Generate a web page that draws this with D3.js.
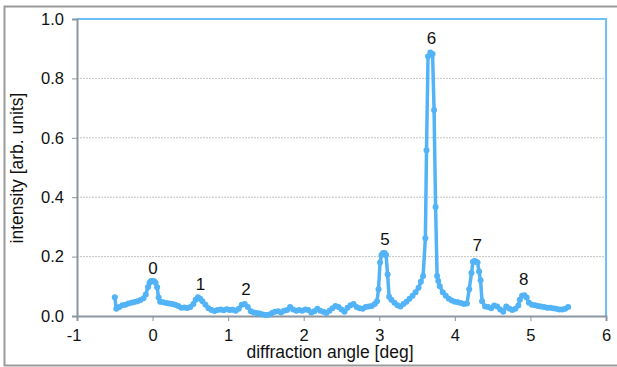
<!DOCTYPE html>
<html>
<head>
<meta charset="utf-8">
<script src="https://cdn.jsdelivr.net/npm/d3@7"></script>
<style>
  body { margin: 0; background: #fff; }
  svg { display: block; font-family: "Liberation Sans", Arial, sans-serif; }
</style>
</head>
<body>
<svg class="chart" width="617" height="367"></svg>
<script>
// diffraction scan
var angle = [-0.50,-0.48,-0.44,-0.40,-0.36,-0.32,-0.28,-0.24,-0.20,-0.16,-0.12,-0.09,-0.06,-0.04,-0.02,0.00,0.02,0.04,0.06,0.08,
  0.10,0.14,0.18,0.22,0.26,0.30,0.34,0.38,0.42,0.46,0.50,0.54,0.57,0.60,0.63,0.66,0.70,0.74,0.78,0.82,
  0.86,0.90,0.94,0.98,1.02,1.06,1.10,1.14,1.18,1.22,1.26,1.30,1.34,1.38,1.42,1.46,1.50,1.54,1.58,1.62,
  1.66,1.70,1.74,1.78,1.82,1.86,1.90,1.94,1.98,2.02,2.06,2.10,2.14,2.18,2.22,2.26,2.30,2.34,2.38,2.42,
  2.46,2.50,2.54,2.58,2.62,2.66,2.70,2.74,2.78,2.82,2.86,2.90,2.94,2.97,2.99,3.01,3.03,3.05,3.07,3.09,
  3.11,3.13,3.16,3.20,3.24,3.28,3.32,3.36,3.40,3.44,3.48,3.52,3.55,3.58,3.61,3.625,3.645,3.675,3.705,3.725,
  3.745,3.765,3.78,3.80,3.84,3.88,3.92,3.96,4.00,4.04,4.08,4.12,4.16,4.19,4.22,4.24,4.26,4.28,4.30,4.32,
  4.34,4.36,4.40,4.44,4.48,4.52,4.56,4.60,4.64,4.68,4.72,4.76,4.80,4.84,4.86,4.89,4.92,4.95,4.98,5.02,
  5.06,5.10,5.14,5.18,5.22,5.26,5.30,5.34,5.38,5.42,5.46,5.50];
var intensity = [0.063,0.024,0.030,0.036,0.038,0.042,0.045,0.047,0.050,0.054,0.060,0.072,0.098,0.112,0.118,0.118,0.117,0.112,0.097,0.062,
  0.048,0.046,0.044,0.042,0.040,0.038,0.034,0.028,0.029,0.027,0.030,0.040,0.055,0.063,0.058,0.050,0.038,0.026,0.020,0.017,
  0.020,0.022,0.019,0.023,0.020,0.021,0.018,0.024,0.038,0.040,0.030,0.016,0.012,0.010,0.008,0.005,0.003,0.004,0.010,0.014,
  0.016,0.012,0.018,0.020,0.030,0.022,0.018,0.020,0.018,0.022,0.020,0.012,0.016,0.024,0.018,0.014,0.010,0.018,0.026,0.034,
  0.030,0.022,0.014,0.028,0.036,0.040,0.030,0.026,0.024,0.030,0.032,0.034,0.040,0.050,0.090,0.180,0.205,0.212,0.212,0.205,
  0.140,0.065,0.055,0.045,0.036,0.032,0.040,0.048,0.058,0.068,0.080,0.095,0.115,0.135,0.262,0.558,0.874,0.887,0.882,0.694,
  0.367,0.135,0.118,0.100,0.080,0.068,0.058,0.052,0.048,0.046,0.044,0.040,0.042,0.090,0.145,0.183,0.185,0.183,0.180,0.150,
  0.120,0.050,0.032,0.030,0.026,0.035,0.032,0.022,0.014,0.032,0.025,0.020,0.024,0.035,0.055,0.068,0.070,0.062,0.045,0.038,
  0.036,0.034,0.032,0.030,0.028,0.028,0.026,0.024,0.022,0.022,0.024,0.030];

var peakNames = ["0", "1", "2", "5", "6", "7", "8"];
var peakX = [0.006, 0.633, 1.237, 3.076, 3.69, 4.297, 4.913];
var peakY = [0.142, 0.088, 0.071, 0.240, 0.916, 0.220, 0.105];

var xTicks = [-1, 0, 1, 2, 3, 4, 5, 6];
var yTicks = [0, 0.2, 0.4, 0.6, 0.8, 1.0];

var svg = d3.select("svg.chart"),
    margin = {top: 19, right: 11, bottom: 51, left: 77},
    width = +svg.attr("width") - margin.left - margin.right,
    height = +svg.attr("height") - margin.top - margin.bottom;

// outer frame
svg.append("rect")
    .attr("x", 4.5).attr("y", 6.5)
    .attr("width", 640).attr("height", 359)
    .attr("fill", "none")
    .attr("stroke", "#9a9a9a")
    .attr("stroke-width", 2);

var g = svg.append("g").attr("transform", "translate(" + margin.left + "," + margin.top + ")");

var x = d3.scaleLinear().domain([-1, 6]).range([0, width]);
var y = d3.scaleLinear().domain([0, 1]).range([height, 0]);

// grid
g.append("g")
  .selectAll("line")
  .data(yTicks.slice(1, -1))
  .enter().append("line")
    .attr("x1", 0).attr("x2", width)
    .attr("y1", function(d) { return y(d); })
    .attr("y2", function(d) { return y(d); })
    .attr("stroke", "#c4c4c4")
    .attr("stroke-dasharray", "2,1");

// top / right frame of the plot area
g.append("path")
    .attr("d", "M0," + y(1) + "H" + width + "V" + height)
    .attr("fill", "none")
    .attr("stroke", "#6cc2f7")
    .attr("stroke-width", 2);

var xAxis = g.append("g")
    .attr("transform", "translate(0," + height + ")")
    .call(d3.axisBottom(x).tickValues(xTicks).tickFormat(function(d) { return String(d); })
      .tickSizeOuter(0).tickSize(5).tickPadding(8));

var yAxis = g.append("g")
    .call(d3.axisLeft(y).tickValues(yTicks).tickFormat(function(d) { return d.toFixed(1); })
      .tickSizeOuter(0).tickSize(5).tickPadding(8));

[xAxis, yAxis].forEach(function(a) {
  a.select(".domain").attr("stroke", "#8a96a0").attr("stroke-width", 2);
  a.selectAll(".tick line").attr("stroke", "#8a96a0");
  a.selectAll(".tick text").attr("font-size", 16.5).attr("fill", "#111")
    .attr("font-family", "'Liberation Sans', Arial, sans-serif");
});
// minus sign hangs left of the tick, digit stays centred
xAxis.selectAll(".tick text").filter(function(d) { return d < 0; }).attr("dx", -3.5);

var data = angle.map(function(a, i) { return {a: a, v: intensity[i]}; });

var line = d3.line()
    .x(function(d) { return x(d.a); })
    .y(function(d) { return y(d.v); });

g.append("path")
    .datum(data)
    .attr("d", line)
    .attr("fill", "none")
    .attr("stroke", "#52b3f7")
    .attr("stroke-width", 3.5)
    .attr("stroke-linejoin", "round");

g.append("g")
  .selectAll("circle")
  .data(data)
  .enter().append("circle")
    .attr("cx", function(d) { return x(d.a); })
    .attr("cy", function(d) { return y(d.v); })
    .attr("r", 3)
    .attr("fill", "#52b3f7");

g.append("g")
    .attr("font-size", 17)
    .attr("text-anchor", "middle")
    .attr("fill", "#111")
  .selectAll("text")
  .data(peakNames)
  .enter().append("text")
    .attr("x", function(d, i) { return x(peakX[i]); })
    .attr("y", function(d, i) { return y(peakY[i]); })
    .text(function(d) { return d; });

// axis titles
svg.append("text")
    .attr("x", 330).attr("y", 358)
    .attr("text-anchor", "middle")
    .attr("font-size", 17.5)
    .attr("fill", "#111")
    .text("diffraction angle [deg]");

svg.append("text")
    .attr("transform", "translate(23,168) rotate(-90)")
    .attr("text-anchor", "middle")
    .attr("font-size", 17.5)
    .attr("fill", "#111")
    .text("intensity [arb. units]");
</script>
</body>
</html>
